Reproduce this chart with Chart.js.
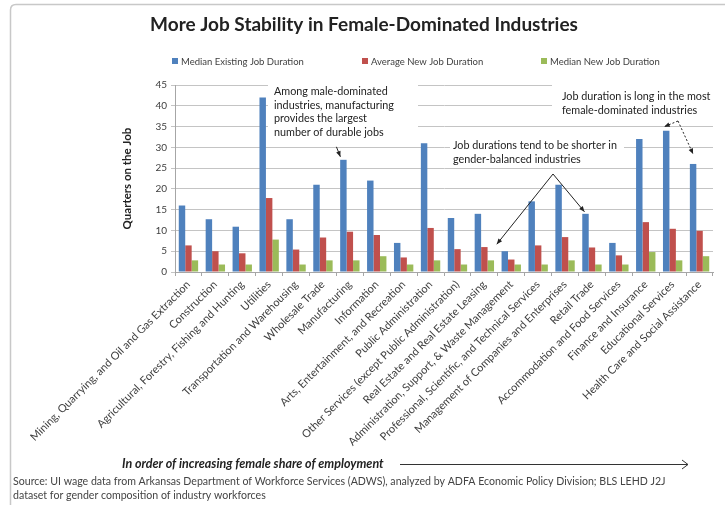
<!DOCTYPE html>
<html>
<head>
<meta charset="utf-8">
<script src="https://cdn.jsdelivr.net/npm/chart.js@4"></script>
<style>
  html, body { margin: 0; padding: 0; background: #fff; }
  #wrap { position: relative; width: 725px; height: 505px; }
</style>
</head>
<body>
<div id="wrap"><canvas id="jobChart" width="725" height="505"></canvas></div>
<script>
// industries, ordered by increasing female share of employment
const categories = [
  "Mining, Quarrying, and Oil and Gas Extraction",
  "Construction",
  "Agricultural, Forestry, Fishing and Hunting",
  "Utilities",
  "Transportation and Warehousing",
  "Wholesale Trade",
  "Manufacturing",
  "Information",
  "Arts, Entertainment, and Recreation",
  "Public Administration",
  "Other Services (except Public Administration)",
  "Real Estate and Real Estate Leasing",
  "Administration, Support, & Waste Management",
  "Professional, Scientific, and Technical Services",
  "Management of Companies and Enterprises",
  "Retail Trade",
  "Accommodation and Food Services",
  "Finance and Insurance",
  "Educational Services",
  "Health Care and Social Assistance"
];
const medianExisting = [16, 12.7, 10.9, 42, 12.7, 21, 27, 22, 7, 31, 13, 14, 5, 17, 21, 14, 7, 32, 34, 26];
const averageNew     = [6.4, 5, 4.5, 17.8, 5.4, 8.3, 9.7, 8.9, 3.5, 10.6, 5.5, 6, 3, 6.4, 8.4, 5.9, 4, 12, 10.4, 9.9];
const medianNew      = [2.8, 1.8, 1.8, 7.8, 1.8, 2.8, 2.8, 3.8, 1.8, 2.8, 1.8, 2.8, 1.8, 1.8, 2.8, 1.8, 1.8, 4.8, 2.8, 3.8];
const seriesNames = ["Median Existing Job Duration", "Average New Job Duration", "Median New Job Duration"];
const seriesColors = ["#4f81bd", "#c0504d", "#9bbb59"];

const FONT = "Lato, 'Open Sans', sans-serif";
const TXT = "#404040";

function arrow(c, x1, y1, x2, y2, dashed) {
  c.save();
  c.strokeStyle = "#222";
  c.fillStyle = "#222";
  c.lineWidth = 1;
  if (dashed) c.setLineDash([2, 2]);
  c.beginPath(); c.moveTo(x1, y1); c.lineTo(x2, y2); c.stroke();
  c.setLineDash([]);
  const a = Math.atan2(y2 - y1, x2 - x1);
  c.beginPath();
  c.moveTo(x2, y2);
  c.lineTo(x2 - 6 * Math.cos(a - 0.4), y2 - 6 * Math.sin(a - 0.4));
  c.lineTo(x2 - 6 * Math.cos(a + 0.4), y2 - 6 * Math.sin(a + 0.4));
  c.closePath(); c.fill();
  c.restore();
}

// white boxes behind the notes, so gridlines are hidden there
const noteBoxes = [
  { x: 268, y: 81, w: 150, h: 60, lines: ["Among male-dominated", "industries, manufacturing", "provides the largest", "number of durable jobs"], tx: 274, ty: 92 },
  { x: 450, y: 137, w: 174, h: 29, lines: ["Job durations tend to be shorter in", "gender-balanced industries"], tx: 453, ty: 146 },
  { x: 552, y: 81, w: 165, h: 38, lines: ["Job duration is long in the most", "female-dominated industries"], tx: 562, ty: 97 }
];

const decorPlugin = {
  id: "decor",
  beforeDatasetsDraw(chart) {
    const c = chart.ctx;
    c.save();
    c.fillStyle = "#fff";
    noteBoxes.forEach(b => c.fillRect(b.x, b.y, b.w, b.h));
    c.restore();
  },
  afterDraw(chart) {
    const c = chart.ctx;
    c.save();
    // chart frame
    c.strokeStyle = "#c8c8c8";
    c.lineWidth = 1.5;
    c.beginPath();
    c.moveTo(10.5, 510); c.lineTo(10.5, 10); c.quadraticCurveTo(10.5, 4.5, 16, 4.5); c.lineTo(730, 4.5);
    c.stroke();

    // title
    c.fillStyle = "#222";
    c.font = "bold 19px " + FONT;
    c.textAlign = "center";
    c.textBaseline = "middle";
    c.fillText("More Job Stability in Female-Dominated Industries", 364, 25);

    // legend
    c.font = "9.5px " + FONT;
    c.textAlign = "left";
    const legX = [172, 362, 541];
    seriesNames.forEach((n, i) => {
      c.fillStyle = seriesColors[i];
      c.fillRect(legX[i], 58, 6, 6);
      c.fillStyle = TXT;
      c.fillText(n, legX[i] + 9, 61.5);
    });

    // notes
    c.fillStyle = "#222";
    c.font = "10.8px " + FONT;
    noteBoxes.forEach(b => b.lines.forEach((l, k) => c.fillText(l, b.tx, b.ty + k * 13.5)));

    // arrows pointing at bars
    const bars = chart.getDatasetMeta(0).data;
    const manu = bars[6], admin = bars[12], retail = bars[15], edu = bars[18], health = bars[19];
    arrow(c, manu.x - 7, manu.y - 13, manu.x - 3, manu.y - 3, false);
    arrow(c, 553, 174, admin.x - 8, admin.y - 7, false);
    arrow(c, 553, 174, retail.x - 1, retail.y - 2, false);
    arrow(c, 678, 121, edu.x - 2, edu.y - 4, true);
    arrow(c, 678, 121, health.x, health.y - 10, true);

    // bottom caption with arrow
    c.fillStyle = "#222";
    c.font = "italic bold 12.5px " + FONT;
    c.textBaseline = "middle";
    c.fillText("In order of increasing female share of employment", 122, 464);
    c.strokeStyle = "#333";
    c.lineWidth = 1;
    c.beginPath(); c.moveTo(400, 464.5); c.lineTo(688, 464.5); c.stroke();
    c.beginPath(); c.moveTo(682, 460); c.lineTo(688, 464.5); c.lineTo(682, 469); c.stroke();

    // source
    c.fillStyle = "#444";
    c.font = "10.6px " + FONT;
    c.fillText("Source: UI wage data from Arkansas Department of Workforce Services (ADWS), analyzed by ADFA Economic Policy Division; BLS LEHD J2J", 13, 482);
    c.fillText("dataset for gender composition of industry workforces", 13, 496);
    c.restore();
  }
};

new Chart(document.getElementById("jobChart"), {
  type: "bar",
  data: {
    labels: categories,
    datasets: seriesNames.map((n, i) => ({
      label: n,
      data: [medianExisting, averageNew, medianNew][i],
      backgroundColor: seriesColors[i],
      borderWidth: 0,
      categoryPercentage: 0.72,
      barPercentage: 1
    }))
  },
  options: {
    responsive: false,
    animation: false,
    layout: { padding: { left: 120, right: 12, top: 85, bottom: 0 } },
    plugins: { legend: { display: false }, tooltip: { enabled: false } },
    scales: {
      x: {
        afterFit: s => { s.height = 233; },
        grid: { drawOnChartArea: false, drawTicks: true, tickLength: 4, color: "#a6a6a6", offset: true },
        border: { color: "#a6a6a6" },
        ticks: {
          autoSkip: false, maxRotation: 45, minRotation: 45,
          color: TXT, font: { family: FONT, size: 11 }, padding: 2
        }
      },
      y: {
        min: 0, max: 45,
        afterFit: s => { s.width = 55; },
        ticks: { stepSize: 5, color: TXT, font: { family: FONT, size: 10 }, padding: 4 },
        grid: { color: "#c4c4c4", tickLength: 4 },
        border: { color: "#a6a6a6" },
        title: { display: true, text: "Quarters on the Job", color: "#222", font: { family: FONT, size: 11.5, weight: "bold" }, padding: 0 }
      }
    }
  },
  plugins: [decorPlugin]
});
</script>
</body>
</html>
